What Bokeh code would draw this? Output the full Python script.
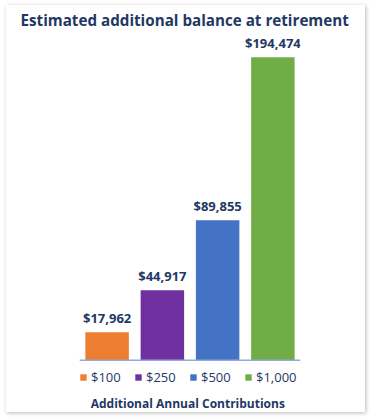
from bokeh.plotting import figure
from bokeh.models import ColumnDataSource, Legend, LegendItem, Label, Span, Range1d
from bokeh.core.properties import value
from bokeh.embed import file_html
from bokeh.resources import INLINE

categories = ["$100", "$250", "$500", "$1,000"]
balances = [17962, 44917, 89855, 194474]
colors = ["#ED7D31", "#7030A0", "#4472C4", "#70AD47"]
title_text = "Estimated additional balance at retirement"
axis_title = "Additional Annual Contributions"

NAVY = "#1F3864"
labels = ["${:,}".format(v) for v in balances]

src = ColumnDataSource(dict(cat=categories, val=balances, col=colors, lab=labels))

p = figure(x_range=categories, y_range=Range1d(-33570, 211620),
           width=359, height=407, output_backend="svg", toolbar_location=None,
           min_border_left=73, min_border_right=65, min_border_top=25, min_border_bottom=0,
           styles={"margin": "5px 0 0 6px",
                   "box-shadow": "1px 1px 4px rgba(0,0,0,0.28)"})

p.title.text = title_text
p.title.align = "left"
p.title.offset = -59
p.title.standoff = 2
p.title.text_font = "Open Sans"
p.title.text_font_style = "bold"
p.title.text_font_size = "15.2px"
p.title.text_color = NAVY

r = p.vbar(x="cat", top="val", width=0.787, fill_color="col", line_color=None, source=src)

p.text(x="cat", y="val", text="lab", source=src, text_align="center", text_baseline="bottom",
       y_offset=-5, text_font=value("Open Sans"), text_font_style="bold",
       text_font_size="13px", text_color=NAVY)

p.xaxis.visible = False
p.yaxis.visible = False
p.xgrid.visible = False
p.ygrid.visible = False
p.outline_line_color = None

p.add_layout(Span(location=0, dimension="width", line_color="#8FAADC", line_width=1.5))

legend = Legend(items=[LegendItem(label=categories[i], renderers=[r], index=i) for i in range(len(categories))],
                orientation="horizontal", location=(0, 26))
legend.glyph_width = 8
legend.glyph_height = 8
legend.label_width = 43
legend.label_standoff = 4
legend.spacing = 0
legend.padding = 2
legend.margin = 0
legend.border_line_color = None
legend.background_fill_alpha = 0
legend.label_text_font = "Open Sans"
legend.label_text_font_size = "13px"
legend.label_text_color = NAVY
p.add_layout(legend)

p.add_layout(Label(x=1.96, y=-27600, text=axis_title, text_align="center", text_baseline="middle",
                   text_font="Open Sans", text_font_style="bold", text_font_size="12px",
                   text_color=NAVY))

open("out.html", "w").write(file_html(p, INLINE))
